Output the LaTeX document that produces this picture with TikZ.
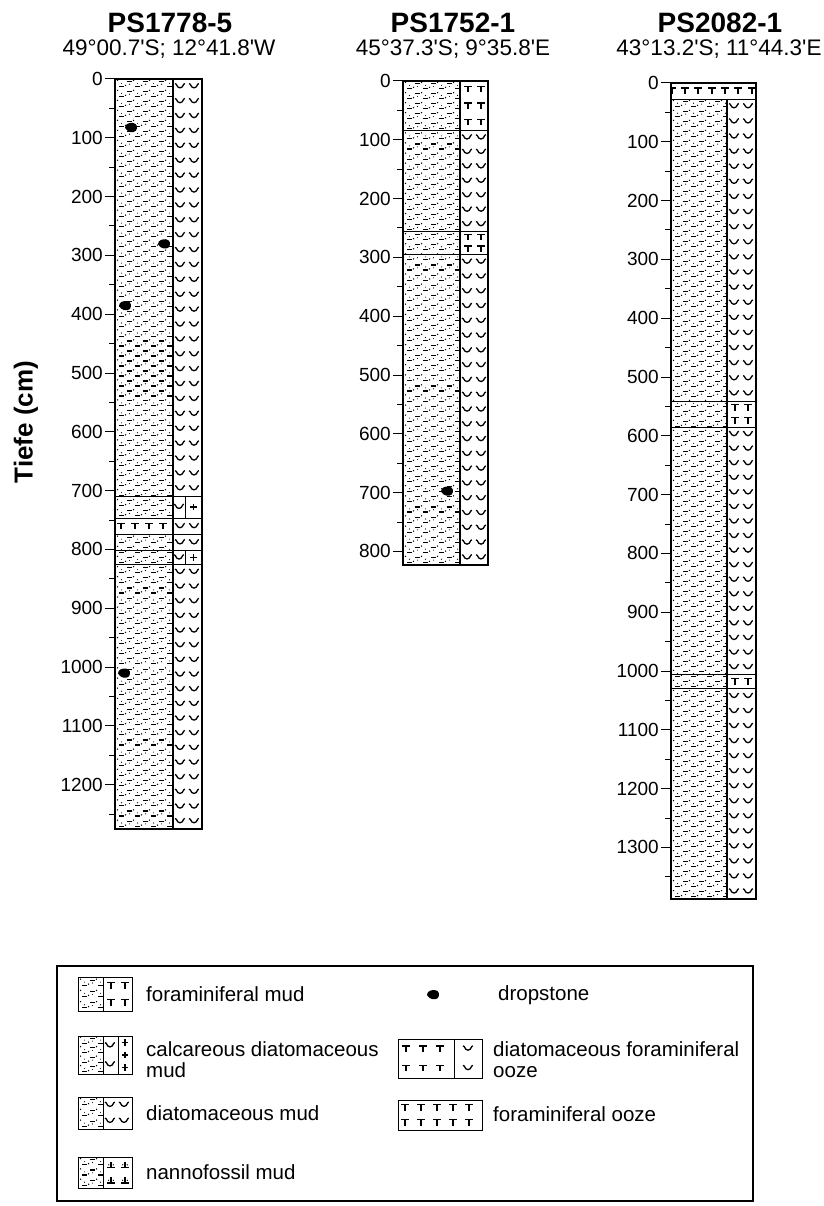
\documentclass[tikz,border=0pt]{standalone}
\usepackage{fontspec}
\setmainfont{Liberation Sans}

% depth scale: pixel per cm of core
\def\dscale{0.588}

\tikzset{
  mudsym/.pic={
    \draw[line width=1.1pt] (-7,-2.5) -- (-2.5,-2.5) (1,2.5) -- (5.5,2.5);
    \fill (-0.5,-3.6) circle (0.75) (7.5,1.4) circle (0.75)
          (-4.5,0.3) circle (0.55) (3.5,-0.6) circle (0.55);
  },
  diatsym/.pic={
    \draw[line width=1.3pt] (-5,-2.8) -- (-3.8,-2.2) .. controls (-2.2,2.6) and (2.2,2.6) .. (3.8,-2.2) -- (4.8,-3);
  },
  foramsym/.pic={
    \draw[line width=1.4pt] (-4,-2.8) -- (4,-2.8) (0,-2.8) -- (0,3);
  },
  calcsym/.pic={
    \draw[line width=1.3pt] (-3.2,0) -- (3.2,0) (0,-3.2) -- (0,3.2);
  },
  nannosym/.pic={
    \draw[line width=1.3pt] (-3.8,2.8) -- (3.8,2.8) (0,-2.8) -- (0,2.8);
    \fill (-2.3,0) circle (0.7) (2.3,0) circle (0.7);
  },
  dropsym/.pic={
    \fill[scale=1.2] (-5,0) .. controls (-5,-3.5) and (-1,-4.5) .. (2,-4) .. controls (5,-3.5) and (6,0) .. (4,2.5) .. controls (2,4.5) and (-3,4) .. (-5,0) -- cycle;
  }
}

% fill a layer: x1, x2, depth1, depth2, symbol, column offsets, row step
\newcommand{\symfill}[7]{%
  \begin{scope}
    \pgfmathsetmacro\ya{#3*\dscale}
    \pgfmathsetmacro\yb{#4*\dscale}
    \clip (#1,\ya) rectangle (#2,\yb);
    \pgfmathtruncatemacro\nr{max(1,round((\yb-\ya)/#7))}
    \pgfmathsetmacro\st{(\yb-\ya)/\nr}
    \foreach \k in {1,...,\nr}
      \foreach \xx in {#6}
        \pic at ({#1+\xx},{\ya+(\k-0.5)*\st}) {#5};
  \end{scope}}

\newcommand{\mn}{\textquotesingle}

\begin{document}
\begin{tikzpicture}[x=1pt, y=-1pt,
  corename/.style={font=\fontsize{28}{30}\selectfont\bfseries, inner sep=0pt},
  corepos/.style={font=\fontsize{22.5}{24}\selectfont, inner sep=0pt},
  ticklab/.style={font=\fontsize{19}{20}\selectfont, anchor=east, inner sep=0pt},
  axislab/.style={font=\fontsize{26}{28}\selectfont\bfseries, rotate=90, inner sep=0pt},
  legtxt/.style={font=\fontsize{20.5}{21}\selectfont, anchor=west, align=left, inner sep=0pt},
  coreline/.style={line width=2.3pt},
  divline/.style={line width=1.4pt},
  layerline/.style={line width=0.7pt},
  tickline/.style={line width=1pt},
  swatch/.style={line width=1pt},
  legframe/.style={line width=2pt}
]
\useasboundingbox (0,0) rectangle (823,1206);

\node[axislab] (ax) at (26,422) {Tiefe (cm)};

% ===== PS1778-5 =====
\node[corename] (n1) at (170,23) {PS1778-5};
\node[corepos] (p1) at (169,49) {49°00.7\mn S; 12°41.8\mn W};
\begin{scope}[shift={(115,79)}]
  \symfill{0}{58}{0}{747}{mudsym}{3,19,35,51}{10}
  \symfill{0}{58}{775}{1275}{mudsym}{3,19,35,51}{10}
  \symfill{0}{58}{747}{775}{foramsym}{6,20,34,48}{15}
  \symfill{58}{87}{0}{709}{diatsym}{7,21}{15}
  \symfill{58}{87}{747}{802}{diatsym}{7,21}{15}
  \symfill{58}{87}{826}{1275}{diatsym}{7,21}{15}
  \symfill{58}{70}{709}{747}{diatsym}{6}{15}
  \symfill{58}{70}{802}{826}{diatsym}{6}{15}
  \symfill{70}{87}{709}{747}{calcsym}{8.5}{15}
  \symfill{70}{87}{802}{826}{calcsym}{8.5}{15}
  \foreach \dep in {709,747,775,802,826}
    \draw[layerline] (0,{\dep*\dscale}) -- (87,{\dep*\dscale});
  \draw[layerline] (70,{709*\dscale}) -- (70,{747*\dscale});
  \draw[layerline] (70,{802*\dscale}) -- (70,{826*\dscale});
  \draw[divline] (58,0) -- (58,{1275*\dscale});
  \draw[coreline] (0,0) rectangle (87,{1275*\dscale});
  % dropstones
  \pic at (16,{83*\dscale}) {dropsym};
  \pic at (49,{281*\dscale}) {dropsym};
  \pic at (10,{386*\dscale}) {dropsym};
  \pic at (9,{1011*\dscale}) {dropsym};
  % depth axis
  \foreach \dep in {0,100,...,1200}{
    \draw[tickline] (-10,{\dep*\dscale}) -- (0,{\dep*\dscale});
    \node[ticklab] (a\dep) at (-12,{\dep*\dscale}) {\dep};
  }
  \foreach \dep in {50,150,...,1250}
    \draw[tickline] (-6,{\dep*\dscale}) -- (0,{\dep*\dscale});
\end{scope}

% ===== PS1752-1 =====
\node[corename] (n2) at (453,23) {PS1752-1};
\node[corepos] (p2) at (453,49) {45°37.3\mn S; 9°35.8\mn E};
\begin{scope}[shift={(403,81)}]
  \symfill{0}{57}{0}{823}{mudsym}{3,19,35,51}{10}
  \symfill{57}{85}{0}{84}{foramsym}{8,21}{15}
  \symfill{57}{85}{84}{256}{diatsym}{7,21}{15}
  \symfill{57}{85}{256}{295}{foramsym}{8,21}{15}
  \symfill{57}{85}{295}{823}{diatsym}{7,21}{15}
  \foreach \dep in {84,256,295}
    \draw[layerline] (0,{\dep*\dscale}) -- (85,{\dep*\dscale});
  \draw[divline] (57,0) -- (57,{823*\dscale});
  \draw[coreline] (0,0) rectangle (85,{823*\dscale});
  \pic at (44,{698*\dscale}) {dropsym};
  \foreach \dep in {0,100,...,800}{
    \draw[tickline] (-10,{\dep*\dscale}) -- (0,{\dep*\dscale});
    \node[ticklab] (b\dep) at (-12,{\dep*\dscale}) {\dep};
  }
  \foreach \dep in {50,150,...,750}
    \draw[tickline] (-6,{\dep*\dscale}) -- (0,{\dep*\dscale});
\end{scope}

% ===== PS2082-1 =====
\node[corename] (n3) at (720,23) {PS2082-1};
\node[corepos] (p3) at (719,49) {43°13.2\mn S; 11°44.3\mn E};
\begin{scope}[shift={(671,83)}]
  \symfill{0}{85}{0}{27}{foramsym}{1,14,27,41,54,67,81}{15}
  \symfill{0}{56}{27}{1388}{mudsym}{3,19,35,51}{10}
  \symfill{56}{85}{27}{541}{diatsym}{7,21}{15}
  \symfill{56}{85}{541}{585}{foramsym}{8,21}{15}
  \symfill{56}{85}{585}{1006}{diatsym}{7,21}{15}
  \symfill{56}{85}{1006}{1030}{foramsym}{8,21}{15}
  \symfill{56}{85}{1030}{1388}{diatsym}{7,21}{15}
  \foreach \dep in {27,541,585,1006,1030}
    \draw[layerline] (0,{\dep*\dscale}) -- (85,{\dep*\dscale});
  \draw[divline] (56,{27*\dscale}) -- (56,{1388*\dscale});
  \draw[coreline] (0,0) rectangle (85,{1388*\dscale});
  \foreach \dep in {0,100,...,1300}{
    \draw[tickline] (-10,{\dep*\dscale}) -- (0,{\dep*\dscale});
    \node[ticklab] (c\dep) at (-12,{\dep*\dscale}) {\dep};
  }
  \foreach \dep in {50,150,...,1350}
    \draw[tickline] (-6,{\dep*\dscale}) -- (0,{\dep*\dscale});
\end{scope}

% ===== Legend =====
\draw[legframe] (57,966) rectangle (753,1201);
\begin{scope}
  \def\dscale{1}
  % foraminiferal mud
  \symfill{78}{103}{977}{1011}{mudsym}{3,19}{10}
  \symfill{103}{132}{977}{1011}{foramsym}{8,22}{15}
  \draw[swatch] (78,977) rectangle (132,1011) (103,977) -- (103,1011);
  \node[legtxt] (l1) at (146,994) {foraminiferal mud};
  % calcareous diatomaceous mud
  \symfill{78}{103}{1036}{1074}{mudsym}{3,19}{10}
  \symfill{103}{118}{1036}{1074}{diatsym}{7}{17}
  \symfill{118}{132}{1036}{1074}{calcsym}{7}{12}
  \draw[swatch] (78,1036) rectangle (132,1074) (103,1036) -- (103,1074) (118,1036) -- (118,1074);
  \node[legtxt] (l2) at (146,1060) {calcareous diatomaceous\\mud};
  % diatomaceous mud
  \symfill{78}{103}{1097}{1129}{mudsym}{3,19}{10}
  \symfill{103}{132}{1097}{1129}{diatsym}{7,21}{15}
  \draw[swatch] (78,1097) rectangle (132,1129) (103,1097) -- (103,1129);
  \node[legtxt] (l3) at (146,1113) {diatomaceous mud};
  % nannofossil mud
  \symfill{78}{103}{1157}{1188}{mudsym}{3,19}{10}
  \symfill{103}{132}{1157}{1188}{nannosym}{8,22}{15}
  \draw[swatch] (78,1157) rectangle (132,1188) (103,1157) -- (103,1188);
  \node[legtxt] (l4) at (146,1172) {nannofossil mud};
  % dropstone
  \pic at (433,995) {dropsym};
  \node[legtxt] (l5) at (498,995) {dropstone};
  % diatomaceous foraminiferal ooze
  \symfill{398}{454}{1039}{1078}{foramsym}{8,25,42}{17}
  \symfill{454}{482}{1039}{1078}{diatsym}{14}{17}
  \draw[swatch] (398,1039) rectangle (482,1078) (454,1039) -- (454,1078);
  \node[legtxt] (l6) at (493,1060) {diatomaceous foraminiferal\\ooze};
  % foraminiferal ooze
  \symfill{398}{482}{1100}{1130}{foramsym}{7,23,39,55,71}{15}
  \draw[swatch] (398,1100) rectangle (482,1130);
  \node[legtxt] (l7) at (493,1114) {foraminiferal ooze};
\end{scope}

\end{tikzpicture}
\end{document}
